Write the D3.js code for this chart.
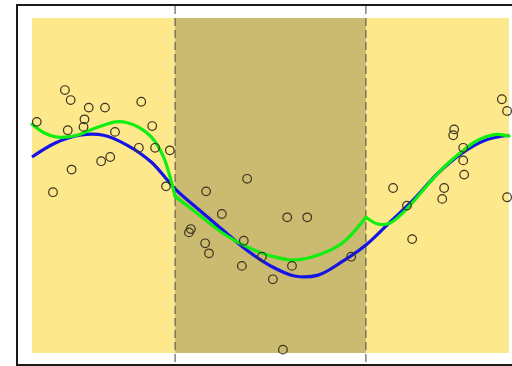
<!DOCTYPE html>
<html>
<head>
<meta charset="utf-8">
<script src="https://cdn.jsdelivr.net/npm/d3@7"></script>
<style>
  html, body { margin: 0; padding: 0; background: #ffffff; }
  svg { display: block; }
</style>
</head>
<body>
<svg id="chart" width="512" height="366"></svg>
<script>
// Observed sample points
const pointX = [0.69, 0.81, 1.19, 1.53, 2.29, 0.10, 1.10, 1.08, 0.75, 1.74, 2.52, 2.24, 2.58, 2.89, 1.45, 1.64, 0.83, 0.44, 2.81,
                3.65, 4.51, 3.98, 5.35, 5.77, 3.33, 3.29, 3.63, 3.71, 4.44, 4.40, 4.82, 5.45, 5.05, 6.69, 5.26,
                9.85, 9.96, 8.85, 8.83, 9.04, 9.04, 9.06, 7.57, 8.64, 8.60, 9.96, 7.86, 7.97];
const pointY = [1.14, 1.02, 0.93, 0.93, 1.00, 0.76, 0.79, 0.70, 0.66, 0.64, 0.71, 0.45, 0.45, 0.42, 0.29, 0.34, 0.19, -0.08, -0.01,
                -0.07, 0.08, -0.34, -0.38, -0.38, -0.52, -0.56, -0.69, -0.81, -0.66, -0.96, -0.85, -0.96, -1.12, -0.85, -1.96,
                1.03, 0.89, 0.67, 0.60, 0.45, 0.30, 0.13, -0.03, -0.03, -0.16, -0.14, -0.24, -0.64];

// Global smooth fit (blue)
const smoothX = [0, 0.5, 1, 1.5, 2, 2.5, 3, 3.5, 4, 4.5, 5, 5.5, 6, 6.5, 7, 7.5, 8, 8.5, 9, 9.5, 10];
const smoothY = [0.34, 0.51, 0.60, 0.60, 0.48, 0.28, -0.04, -0.29, -0.53, -0.77, -0.96, -1.08, -1.07, -0.91, -0.71, -0.44, -0.17, 0.14, 0.38, 0.54, 0.60];

// Piecewise fit (green), one piece per region
const pieceAX = [0, 0.25, 0.5, 0.75, 1, 1.25, 1.5, 1.75, 2, 2.25, 2.5, 2.75, 3];
const pieceAY = [0.73, 0.63, 0.58, 0.58, 0.61, 0.67, 0.72, 0.76, 0.75, 0.69, 0.58, 0.35, -0.13];
const pieceBX = [3, 3.5, 4, 4.5, 5, 5.5, 6, 6.5, 7];
const pieceBY = [-0.13, -0.35, -0.57, -0.73, -0.84, -0.89, -0.83, -0.69, -0.38];
const pieceCX = [7, 7.25, 7.5, 7.75, 8, 8.25, 8.5, 8.75, 9, 9.25, 9.5, 9.75, 10];
const pieceCY = [-0.38, -0.46, -0.45, -0.34, -0.19, -0.02, 0.14, 0.28, 0.40, 0.51, 0.58, 0.61, 0.59];

// Region boundaries along x
const xDomain = [0, 10];
const yDomain = [-2, 2];
const breaks = [3, 7];

const svg = d3.select("#chart");
const x = d3.scaleLinear().domain(xDomain).range([32, 509]);
const y = d3.scaleLinear().domain(yDomain).range([353, 18]);

// Shaded regions
const edges = [xDomain[0], ...breaks, xDomain[1]];
const regionFill = ["#fde88b", "#cabb70", "#fde88b"];
svg.append("g").selectAll("rect")
  .data(d3.range(edges.length - 1))
  .join("rect")
  .attr("x", i => x(edges[i]))
  .attr("width", i => x(edges[i + 1]) - x(edges[i]))
  .attr("y", y(yDomain[1]))
  .attr("height", y(yDomain[0]) - y(yDomain[1]))
  .attr("fill", i => regionFill[i]);

// Region dividers
svg.append("g").selectAll("line")
  .data(breaks)
  .join("line")
  .attr("x1", d => x(d)).attr("x2", d => x(d))
  .attr("y1", 6).attr("y2", 364)
  .attr("stroke", "#555")
  .attr("stroke-width", 1.1)
  .attr("stroke-dasharray", "8,4");

const line = d3.line()
  .x(d => x(d[0]))
  .y(d => y(d[1]))
  .curve(d3.curveCatmullRom.alpha(0.5));

// Blue smooth curve
svg.append("path")
  .datum(d3.zip(smoothX, smoothY))
  .attr("d", line)
  .attr("fill", "none")
  .attr("stroke", "#1414e6")
  .attr("stroke-width", 3.2)
  .attr("stroke-linejoin", "round");

// Green piecewise curve
[[pieceAX, pieceAY], [pieceBX, pieceBY], [pieceCX, pieceCY]].forEach(([px, py]) => {
  svg.append("path")
    .datum(d3.zip(px, py))
    .attr("d", line)
    .attr("fill", "none")
    .attr("stroke", "#10ee10")
    .attr("stroke-width", 3.2)
    .attr("stroke-linecap", "round");
});

// Points
svg.append("g").selectAll("circle")
  .data(d3.zip(pointX, pointY))
  .join("circle")
  .attr("cx", d => x(d[0]))
  .attr("cy", d => y(d[1]))
  .attr("r", 4.3)
  .attr("fill", "none")
  .attr("stroke", "#3a3220")
  .attr("stroke-width", 1.2);

// Frame
svg.append("rect")
  .attr("x", 17).attr("y", 5)
  .attr("width", 520).attr("height", 360)
  .attr("fill", "none")
  .attr("stroke", "#1a1a1a")
  .attr("stroke-width", 2);
</script>
</body>
</html>
